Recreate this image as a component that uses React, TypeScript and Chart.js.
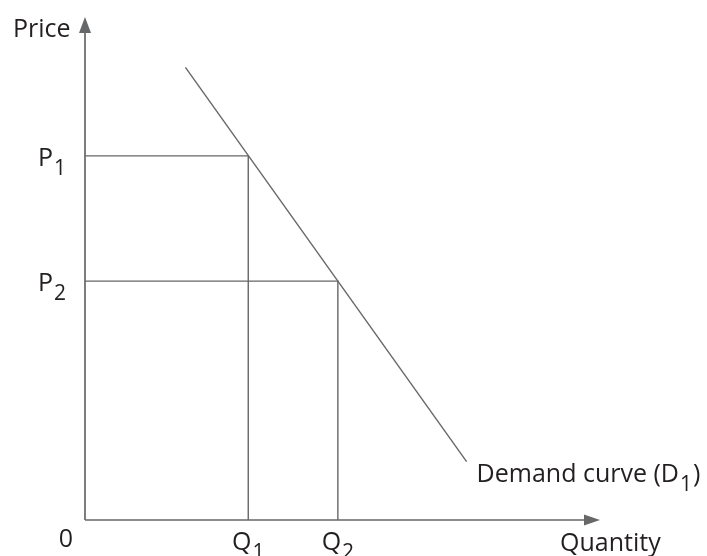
import React, { useEffect, useRef } from "react";
import { Chart, registerables } from "chart.js";

Chart.register(...registerables);

// Axis extents (abstract units)
const axisMax = { x: 10, y: 10 };

// Price levels and quantity levels
const priceLabels = ["P", "P"];
const priceSubs = ["1", "2"];
const priceValues = [7.24, 4.75];

const quantityLabels = ["Q", "Q"];
const quantitySubs = ["1", "2"];
const quantityValues = [3.17, 4.91];

// Demand curve endpoints
const demandQ = [1.95, 7.41];
const demandP = [9.0, 1.16];

const demandLabel = "Demand curve (D";
const demandSub = "1";

const LINE = "#666769";
const TEXT = "#231f20";
const FONT = "'Open Sans'";
const MAIN = 25;
const SUB = 21;

export default function App() {
  const ref = useRef<HTMLCanvasElement | null>(null);

  useEffect(() => {
    if (!ref.current) return;

    const guides = priceValues.map((p, i) => ({
      data: [
        { x: 0, y: p },
        { x: quantityValues[i], y: p },
        { x: quantityValues[i], y: 0 },
      ],
      borderColor: LINE,
      borderWidth: 1.4,
      pointRadius: 0,
      showLine: true,
      fill: false,
    }));

    const demand = {
      data: demandQ.map((q, i) => ({ x: q, y: demandP[i] })),
      borderColor: LINE,
      borderWidth: 1.4,
      pointRadius: 0,
      showLine: true,
      fill: false,
    };

    const drawLabel = (
      ctx: CanvasRenderingContext2D,
      main: string,
      sub: string,
      x: number,
      baseline: number,
      align: "left" | "right" | "center",
      tail = ""
    ) => {
      ctx.font = `${MAIN}px ${FONT}`;
      const wMain = ctx.measureText(main).width;
      const wTail = tail ? ctx.measureText(tail).width : 0;
      ctx.font = `${SUB}px ${FONT}`;
      const wSub = sub ? ctx.measureText(sub).width + 1 : 0;
      const total = wMain + wSub + wTail;
      let left = x;
      if (align === "right") left = x - total;
      if (align === "center") left = x - total / 2;
      ctx.textAlign = "left";
      ctx.textBaseline = "alphabetic";
      ctx.fillStyle = TEXT;
      ctx.font = `${MAIN}px ${FONT}`;
      ctx.fillText(main, left, baseline);
      if (sub) {
        ctx.font = `${SUB}px ${FONT}`;
        ctx.fillText(sub, left + wMain + 1, baseline + 9);
      }
      if (tail) {
        ctx.font = `${MAIN}px ${FONT}`;
        ctx.fillText(tail, left + wMain + wSub + 1, baseline);
      }
    };

    const decor = {
      id: "decor",
      afterDatasetsDraw(chart: any) {
        const ctx: CanvasRenderingContext2D = chart.ctx;
        const xs = chart.scales.x;
        const ys = chart.scales.y;
        const x0 = xs.getPixelForValue(0);
        const y0 = ys.getPixelForValue(0);
        const xEnd = xs.getPixelForValue(axisMax.x);
        const yEnd = ys.getPixelForValue(axisMax.y);
        ctx.save();
        ctx.strokeStyle = LINE;
        ctx.fillStyle = LINE;
        ctx.lineWidth = 1.7;
        // y axis
        ctx.beginPath();
        ctx.moveTo(x0, y0);
        ctx.lineTo(x0, yEnd + 12);
        ctx.stroke();
        ctx.beginPath();
        ctx.moveTo(x0, yEnd);
        ctx.lineTo(x0 - 6, yEnd + 16);
        ctx.lineTo(x0 + 6, yEnd + 16);
        ctx.closePath();
        ctx.fill();
        // x axis
        ctx.beginPath();
        ctx.moveTo(x0, y0);
        ctx.lineTo(xEnd - 12, y0);
        ctx.stroke();
        ctx.beginPath();
        ctx.moveTo(xEnd, y0);
        ctx.lineTo(xEnd - 16, y0 - 5.5);
        ctx.lineTo(xEnd - 16, y0 + 5.5);
        ctx.closePath();
        ctx.fill();

        // Axis titles
        ctx.fillStyle = TEXT;
        ctx.font = `${MAIN}px ${FONT}`;
        ctx.textAlign = "left";
        ctx.textBaseline = "alphabetic";
        ctx.fillText("Price", 13, yEnd + 20);
        ctx.fillText("Quantity", xEnd - 40, y0 + 31);
        ctx.textAlign = "center";
        ctx.fillText("0", x0 - 19, y0 + 27);

        // Price ticks
        priceValues.forEach((p, i) => {
          const py = ys.getPixelForValue(p);
          drawLabel(ctx, priceLabels[i], priceSubs[i], x0 - 19, py + 10, "right");
        });
        // Quantity ticks
        quantityValues.forEach((q, i) => {
          const px = xs.getPixelForValue(q);
          drawLabel(ctx, quantityLabels[i], quantitySubs[i], px, y0 + 30, "center");
        });
        // Demand label
        const ex = xs.getPixelForValue(demandQ[1]);
        const ey = ys.getPixelForValue(demandP[1]);
        drawLabel(ctx, demandLabel, demandSub, ex + 10, ey + 20, "left", ")");
        ctx.restore();
      },
    };

    const chart = new Chart(ref.current, {
      type: "scatter",
      data: { datasets: [...guides, demand] as any },
      options: {
        animation: false,
        responsive: false,
        devicePixelRatio: 1,
        layout: { padding: { left: 85, top: 17, right: 107, bottom: 36 } },
        plugins: { legend: { display: false }, tooltip: { enabled: false } },
        scales: {
          x: { type: "linear", min: 0, max: axisMax.x, display: false },
          y: { type: "linear", min: 0, max: axisMax.y, display: false },
        },
      },
      plugins: [decor],
    });
    return () => chart.destroy();
  }, []);

  return (
    <div style={{ position: "absolute", left: 0, top: 0, width: 707, height: 556, background: "#fff" }}>
      <canvas ref={ref} width={707} height={556} />
    </div>
  );
}
